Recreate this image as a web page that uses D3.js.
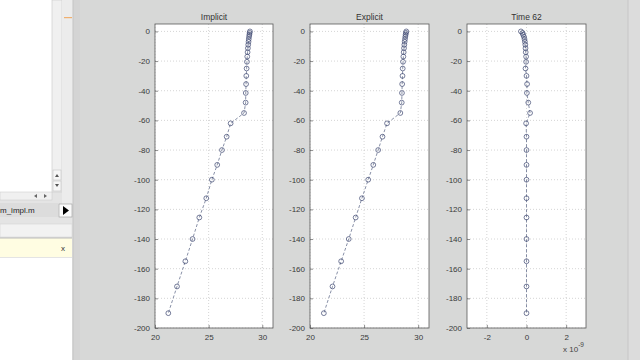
<!DOCTYPE html>
<html>
<head>
<meta charset="utf-8">
<script src="https://cdn.jsdelivr.net/npm/d3@7"></script>
<style>
  html, body { margin: 0; padding: 0; background: #d7d8d7; }
  svg { display: block; font-family: "Liberation Sans", Arial, sans-serif; }
  .tick text { fill: #3a3a3a; font-size: 8px; }
</style>
</head>
<body>
<svg id="chart" width="640" height="360"></svg>
<script>
// depth of each grid level (y axis)
const depth = [0, -1, -2.2, -3.6, -5.2, -7, -9, -11.3, -14, -17, -20.5, -25, -30, -35.5,
    -41.5, -48, -55, -62, -71, -80, -90, -100, -112.5, -125.5, -140, -155, -172, -190];

const implicitTemp = [28.85, 28.82, 28.8, 28.77, 28.74, 28.72, 28.69, 28.66, 28.63, 28.6,
    28.57, 28.54, 28.51, 28.49, 28.46, 28.45, 28.3, 27.05, 26.68, 26.24, 25.8, 25.3,
    24.78, 24.13, 23.5, 22.83, 22.05, 21.24];

const explicitTemp = [28.9, 28.87, 28.84, 28.81, 28.78, 28.75, 28.72, 28.69, 28.66, 28.63,
    28.6, 28.57, 28.55, 28.52, 28.5, 28.48, 28.35, 27.12, 26.7, 26.3, 25.85, 25.38,
    24.8, 24.22, 23.58, 22.88, 22.08, 21.28];

// implicit - explicit, in units of 1e-9
const diffTemp = [-0.28, -0.2, -0.17, -0.13, -0.1, -0.08, -0.06, -0.05, -0.04, -0.02,
    -0.02, -0.05, 0, 0.03, 0.02, 0.09, 0.18, -0.02, 0, 0, 0, 0, 0, 0, 0, 0, 0, 0];

const yTicks = [0, -20, -40, -60, -80, -100, -120, -140, -160, -180, -200];
const tempTicks = [20, 25, 30];
const diffTicks = [-2, 0, 2];

const svg = d3.select("#chart");

// --- surrounding editor window bits ---
svg.append("rect").attr("x", 0).attr("y", 0).attr("width", 80).attr("height", 360).attr("fill", "#e4e4e4");
svg.append("rect").attr("x", 0).attr("y", 0).attr("width", 52).attr("height", 192).attr("fill", "#ffffff");
svg.append("rect").attr("x", 52).attr("y", 0).attr("width", 10).attr("height", 192).attr("fill", "#f0f0f0")
    .attr("stroke", "#c8c8c8").attr("stroke-width", 0.6);
svg.append("rect").attr("x", 53).attr("y", 170).attr("width", 8).attr("height", 10).attr("fill", "#f6f6f6").attr("stroke", "#bbb").attr("stroke-width", 0.5);
svg.append("rect").attr("x", 53).attr("y", 181).attr("width", 8).attr("height", 10).attr("fill", "#f6f6f6").attr("stroke", "#bbb").attr("stroke-width", 0.5);
svg.append("path").attr("d", "M55,177 L57,174 L59,177 Z M55,184 L59,184 L57,187 Z").attr("fill", "#555");
svg.append("rect").attr("x", 62).attr("y", 0).attr("width", 11).attr("height", 205).attr("fill", "#ececec");
svg.append("rect").attr("x", 64).attr("y", 17).attr("width", 8).attr("height", 1.2).attr("fill", "#f0b070");
svg.append("rect").attr("x", 73).attr("y", 0).attr("width", 7).attr("height", 360).attr("fill", "#d4d4d4");
svg.append("line").attr("x1", 73).attr("x2", 73).attr("y1", 0).attr("y2", 360).attr("stroke", "#c4c4c4");
svg.append("rect").attr("x", 0).attr("y", 192).attr("width", 52).attr("height", 8).attr("fill", "#f0f0f0")
    .attr("stroke", "#c8c8c8").attr("stroke-width", 0.5);
svg.append("path").attr("d", "M34,196 L37,194 L37,198 Z M44,194 L47,196 L44,198 Z").attr("fill", "#666");
svg.append("rect").attr("x", 0).attr("y", 203).attr("width", 58).attr("height", 14).attr("fill", "#dcdcdc");
svg.append("text").attr("x", 0).attr("y", 213).attr("font-size", 8).attr("fill", "#222").text("m_impl.m");
svg.append("rect").attr("x", 59).attr("y", 204).attr("width", 13).attr("height", 13).attr("fill", "#fafafa").attr("stroke", "#999").attr("stroke-width", 0.6);
svg.append("path").attr("d", "M63,206 L69,210.5 L63,215 Z").attr("fill", "#000");
svg.append("rect").attr("x", 0).attr("y", 224).attr("width", 72).attr("height", 13).attr("fill", "#f2f2f2").attr("stroke", "#d0d0d0").attr("stroke-width", 0.5);
svg.append("rect").attr("x", 0).attr("y", 238).attr("width", 72).attr("height", 19).attr("fill", "#fffde2");
svg.append("line").attr("x1", 0).attr("x2", 72).attr("y1", 238).attr("y2", 238).attr("stroke", "#bbb");
svg.append("text").attr("x", 63).attr("y", 251).attr("font-size", 8).attr("text-anchor", "middle").attr("fill", "#333").text("x");
svg.append("rect").attr("x", 0).attr("y", 258).attr("width", 72).attr("height", 102).attr("fill", "#ffffff");
svg.append("rect").attr("x", 628).attr("y", 0).attr("width", 12).attr("height", 360).attr("fill", "#dcdcdc");
svg.append("line").attr("x1", 628).attr("x2", 628).attr("y1", 0).attr("y2", 360).attr("stroke", "#c6c6c6");

// --- one subplot ---
function drawPanel(opts) {
    const top = 24, bottom = 328;
    const g = svg.append("g");

    const x = d3.scaleLinear().domain(opts.xDomain).range([opts.left, opts.right]);
    const y = d3.scaleLinear().domain([-200, 5]).range([bottom, top]);

    g.append("rect")
        .attr("x", opts.left).attr("y", top)
        .attr("width", opts.right - opts.left).attr("height", bottom - top)
        .attr("fill", "#ffffff");

    // dotted grid
    g.selectAll(".gx").data(opts.xTicks).enter().append("line")
        .attr("x1", d => x(d)).attr("x2", d => x(d))
        .attr("y1", top).attr("y2", bottom)
        .attr("stroke", "#b8b8b8").attr("stroke-width", 0.6).attr("stroke-dasharray", "1,2");
    g.selectAll(".gy").data(yTicks).enter().append("line")
        .attr("x1", opts.left).attr("x2", opts.right)
        .attr("y1", d => y(d)).attr("y2", d => y(d))
        .attr("stroke", "#b8b8b8").attr("stroke-width", 0.6).attr("stroke-dasharray", "1,2");

    // axes, ticks inside like MATLAB, plain hyphen minus
    const fmt = d => String(d);
    const xAxis = g.append("g").attr("transform", `translate(0,${bottom})`)
        .call(d3.axisBottom(x).tickValues(opts.xTicks).tickFormat(fmt).tickSizeInner(-3).tickSizeOuter(0).tickPadding(6));
    const yAxis = g.append("g").attr("transform", `translate(${opts.left},0)`)
        .call(d3.axisLeft(y).tickValues(yTicks).tickFormat(fmt).tickSizeInner(-3).tickSizeOuter(0).tickPadding(5));
    [xAxis, yAxis].forEach(a => {
        a.select(".domain").remove();
        a.selectAll(".tick line").attr("stroke", "#444").attr("stroke-width", 0.6);
        a.selectAll("text").attr("font-family", "Liberation Sans, Arial, sans-serif");
    });

    g.append("rect")
        .attr("x", opts.left).attr("y", top)
        .attr("width", opts.right - opts.left).attr("height", bottom - top)
        .attr("fill", "none").attr("stroke", "#5a5a5a").attr("stroke-width", 0.8);

    const pts = depth.map((d, i) => ({ x: opts.values[i], y: d }));

    g.append("path").datum(pts)
        .attr("fill", "none")
        .attr("stroke", "#6a7390")
        .attr("stroke-width", 0.8)
        .attr("stroke-dasharray", "3,2")
        .attr("d", d3.line().x(d => x(d.x)).y(d => y(d.y)));

    g.selectAll(".pt").data(pts).enter().append("circle")
        .attr("cx", d => x(d.x)).attr("cy", d => y(d.y))
        .attr("r", 2.4)
        .attr("fill", "none")
        .attr("stroke", "#3c4670")
        .attr("stroke-width", 0.7);

    g.append("text")
        .attr("x", (opts.left + opts.right) / 2).attr("y", 20)
        .attr("text-anchor", "middle")
        .attr("font-size", 8.5)
        .attr("fill", "#333")
        .text(opts.title);

    return { x, y };
}

drawPanel({ left: 155, right: 273, xDomain: [20, 31], xTicks: tempTicks, values: implicitTemp, title: "Implicit" });
drawPanel({ left: 310, right: 429, xDomain: [20, 31], xTicks: tempTicks, values: explicitTemp, title: "Explicit" });
drawPanel({ left: 467, right: 586, xDomain: [-3, 3], xTicks: diffTicks, values: diffTemp, title: "Time 62" });

// exponent label for the third subplot
const expo = svg.append("text").attr("x", 563).attr("y", 352).attr("font-size", 8).attr("fill", "#444");
expo.append("tspan").text("x 10");
expo.append("tspan").attr("dy", -5).attr("font-size", 6.5).text("-9");
</script>
</body>
</html>
